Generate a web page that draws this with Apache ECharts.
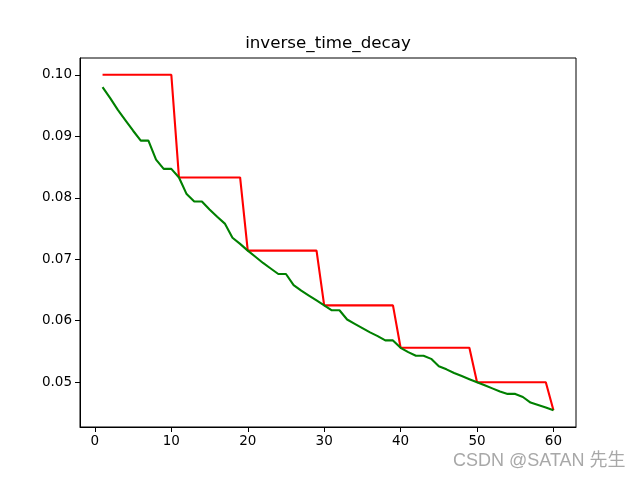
<!DOCTYPE html>
<html>
<head>
<meta charset="utf-8">
<script src="https://cdn.jsdelivr.net/npm/echarts@6/dist/echarts.min.js"></script>
<style>html,body{margin:0;padding:0;background:#fff;}#c{width:640px;height:480px;}</style>
</head>
<body>
<div id="c"></div>
<script>
var steps = [];
for (var i = 1; i <= 60; i++) steps.push(i);

var redValues = [
  0.1000, 0.1000, 0.1000, 0.1000, 0.1000, 0.1000, 0.1000, 0.1000, 0.1000, 0.1000,
  0.0833, 0.0833, 0.0833, 0.0833, 0.0833, 0.0833, 0.0833, 0.0833, 0.0833,
  0.0714, 0.0714, 0.0714, 0.0714, 0.0714, 0.0714, 0.0714, 0.0714, 0.0714, 0.0714,
  0.0625, 0.0625, 0.0625, 0.0625, 0.0625, 0.0625, 0.0625, 0.0625, 0.0625, 0.0625,
  0.0556, 0.0556, 0.0556, 0.0556, 0.0556, 0.0556, 0.0556, 0.0556, 0.0556, 0.0556,
  0.0500, 0.0500, 0.0500, 0.0500, 0.0500, 0.0500, 0.0500, 0.0500, 0.0500, 0.0500,
  0.04545
];

var greenValues = [
  0.0980, 0.0962, 0.0943, 0.0926, 0.0909, 0.0893, 0.0893, 0.0862, 0.0847, 0.0847,
  0.0833, 0.0806, 0.0794, 0.0794, 0.0781, 0.0769, 0.0758, 0.0735, 0.0725, 0.0714,
  0.0704, 0.0694, 0.0685, 0.0676, 0.0676, 0.0658, 0.0649, 0.0641, 0.0633, 0.0625,
  0.0617, 0.0617, 0.0602, 0.0595, 0.0588, 0.0581, 0.0575, 0.0568, 0.0568, 0.0556,
  0.0549, 0.0543, 0.0543, 0.0538, 0.0526, 0.0521, 0.0515, 0.0510, 0.0505, 0.0500,
  0.0495, 0.0490, 0.0485, 0.0481, 0.0481, 0.0476, 0.0467, 0.0463, 0.0459, 0.04545
];

var xTicks = [0, 10, 20, 30, 40, 50, 60];
var yTicks = [0.05, 0.06, 0.07, 0.08, 0.09, 0.10];
var titleText = 'inverse_time_decay';
var watermark = 'CSDN @SATAN 先生';

function pairs(xs, ys) { return xs.map(function (x, i) { return [x, ys[i]]; }); }

var font = 'DejaVu Sans';
var chart = echarts.init(document.getElementById('c'), null, {renderer: 'canvas'});
chart.setOption({
  animation: false,
  backgroundColor: '#ffffff',
  grid: {left: 80, right: 64, top: 58, bottom: 53, show: true, borderColor: '#000', borderWidth: 1, backgroundColor: 'transparent'},
  xAxis: {
    type: 'value', min: -1.95, max: 62.95,
    axisLine: {show: true, onZero: false, lineStyle: {color: '#000', width: 1}},
    axisTick: {show: true, length: 5, lineStyle: {color: '#000'}, customValues: xTicks},
    axisLabel: {customValues: xTicks, color: '#000', fontFamily: font, fontSize: 13.5, margin: 7},
    splitLine: {show: false}
  },
  yAxis: {
    type: 'value', min: 0.04272, max: 0.10273,
    axisLine: {show: true, onZero: false, lineStyle: {color: '#000', width: 1}},
    axisTick: {show: true, length: 5, lineStyle: {color: '#000'}, customValues: yTicks},
    axisLabel: {customValues: yTicks, color: '#000', fontFamily: font, fontSize: 13.5, margin: 8,
      formatter: function (v) { return v.toFixed(2); }},
    splitLine: {show: false}
  },
  series: [
    {type: 'line', data: pairs(steps, redValues), showSymbol: false, symbol: 'none',
      lineStyle: {color: '#ff0000', width: 2.1}, itemStyle: {color: '#ff0000'}},
    {type: 'line', data: pairs(steps, greenValues), showSymbol: false, symbol: 'none',
      lineStyle: {color: '#008000', width: 2.1}, itemStyle: {color: '#008000'}}
  ],
  graphic: [{
    type: 'text', x: 328, y: 44,
    style: {text: titleText, fill: '#000', font: '16.7px "DejaVu Sans"', align: 'center', verticalAlign: 'middle'}
  }, {
    type: 'text', x: 453, y: 461,
    style: {text: watermark, fill: '#a8a8a8', font: '18px "Liberation Sans", "Noto Sans CJK SC", sans-serif', align: 'left', verticalAlign: 'middle'}
  }]
});
</script>
</body>
</html>
